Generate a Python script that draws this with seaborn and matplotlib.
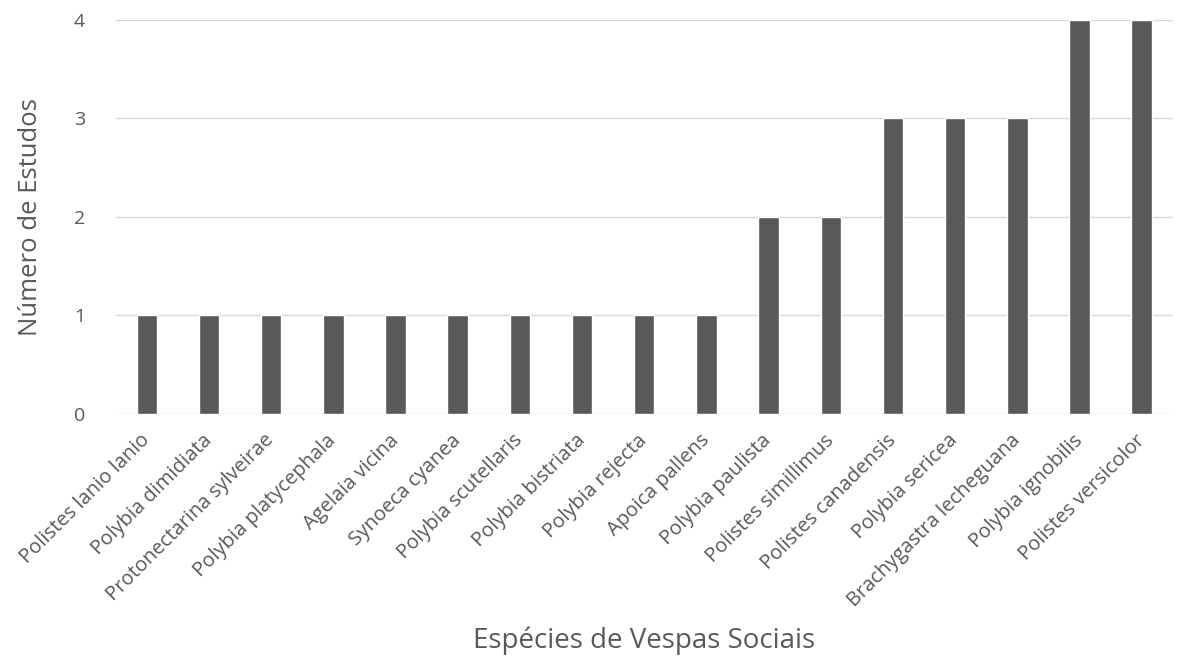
import matplotlib
matplotlib.use("Agg")
import matplotlib.pyplot as plt
import seaborn as sns
import pandas as pd

especies = ["Polistes lanio lanio", "Polybia dimidiata", "Protonectarina sylveirae",
            "Polybia platycephala", "Agelaia vicina", "Synoeca cyanea",
            "Polybia scutellaris", "Polybia bistriata", "Polybia rejecta",
            "Apoica pallens", "Polybia paulista", "Polistes simillimus",
            "Polistes canadensis", "Polybia sericea", "Brachygastra lecheguana",
            "Polybia ignobilis", "Polistes versicolor"]
estudos = [1, 1, 1, 1, 1, 1, 1, 1, 1, 1, 2, 2, 3, 3, 3, 4, 4]

df = pd.DataFrame({"especie": especies, "estudos": estudos})

sns.set_style("white")
plt.rcParams["font.family"] = ["Open Sans", "DejaVu Sans"]
cinza = "#595959"

fig = plt.figure(figsize=(11.81, 6.57), dpi=100)
ax = fig.add_axes([0.098, 0.370, 0.895, 0.600])

sns.barplot(x="especie", y="estudos", data=df, color=cinza,
            width=0.33, ax=ax, zorder=3, saturation=1)

# Cuadricula
ax.set_ylim(0, 4)
ax.set_xlim(-0.5, len(especies) - 0.5)
ax.set_yticks([0, 1, 2, 3, 4])
ax.grid(True, axis="y", color="#d9d9d9", linewidth=1, zorder=0)
for s in ax.spines.values():
  s.set_visible(False)
ax.tick_params(axis="y", length=0, colors=cinza, labelsize=14, pad=22)
ax.tick_params(axis="x", length=0, colors=cinza, labelsize=14.5, pad=17)
plt.setp(ax.get_xticklabels(), rotation=45, ha="right", va="center",
         rotation_mode="anchor")

# Etiquetas
ax.set_xlabel("Espécies de Vespas Sociais", fontsize=20, color=cinza, va="center")
ax.set_ylabel("Número de Estudos", fontsize=18.5, color=cinza, va="center")
ax.xaxis.set_label_coords(0.5, -0.576)
ax.yaxis.set_label_coords(-0.081, 0.5)

fig.savefig("out.png", dpi=100)
plt.close()
